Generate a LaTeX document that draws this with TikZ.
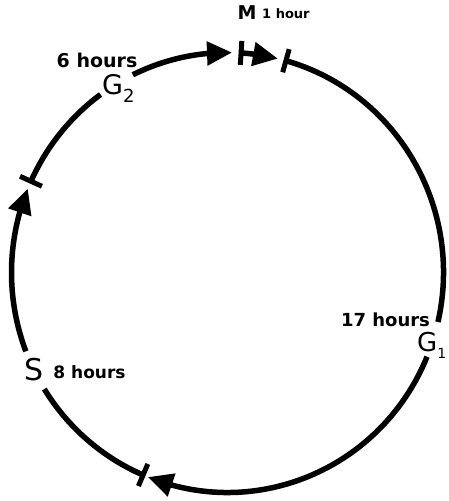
\documentclass[tikz,border=0pt]{standalone}
\usepackage{fontspec}
\setmainfont{DejaVu Sans}
\usetikzlibrary{arrows.meta,bending,calc}

\begin{document}
\begin{tikzpicture}[x=1pt, y=1pt,
  ring/.style={x radius=216pt, y radius=220pt},
  cyc/.style={line width=5.5pt},
  arr/.style={cyc, -{Triangle[length=25pt, width=23pt]}},
  tickmark/.style={line width=5pt},
  phase/.style={inner sep=0pt, font=\fontsize{27}{27}\selectfont},
  hrs/.style={inner sep=0pt, font=\bfseries\fontsize{19}{19}\selectfont}
]
  \useasboundingbox (0,0) rectangle (448,501);
  \coordinate (c) at (227.5,228.5);
  % phase boundaries and label gaps
  \coordinate (mg1) at ($(c)+(74.3:216pt and 220pt)$);
  \coordinate (g1b) at ($(c)+(-22.5:216pt and 220pt)$);
  \coordinate (g1s) at ($(c)+(247:216pt and 220pt)$);
  \coordinate (sb) at ($(c)+(201:216pt and 220pt)$);
  \coordinate (sg2) at ($(c)+(155.5:216pt and 220pt)$);
  \coordinate (g2b) at ($(c)+(116:216pt and 220pt)$);
  \coordinate (g2m) at ($(c)+(86.4:216pt and 220pt)$);
  % arcs
  \draw[cyc] (mg1) arc[ring, start angle=74.3, end angle=-13];
  \draw[arr] (g1b) arc[ring, start angle=-22.5, end angle=-111.6];
  \draw[cyc] (g1s) arc[ring, start angle=247, end angle=212];
  \draw[arr] (sb) arc[ring, start angle=201, end angle=157.6];
  \draw[cyc] (sg2) arc[ring, start angle=155.5, end angle=126];
  \draw[arr] (g2b) arc[ring, start angle=116, end angle=88.8];
  \draw[arr] (g2m) arc[ring, start angle=86.4, end angle=76.5];
  % boundary ticks
  \draw[tickmark] ($(c)+(74.3:204pt and 208pt)$) -- ($(c)+(74.3:228pt and 232pt)$);
  \draw[tickmark] ($(c)+(247:204pt and 208pt)$) -- ($(c)+(247:228pt and 232pt)$);
  \draw[tickmark] ($(c)+(155.5:204pt and 208pt)$) -- ($(c)+(155.5:228pt and 232pt)$);
  \draw[tickmark] ($(c)+(86.4:204pt and 208pt)$) -- ($(c)+(86.4:228pt and 232pt)$);
  % labels
  \node[hrs] (mlab) at (247,488) {M};
  \node[hrs, font=\bfseries\fontsize{13}{13}\selectfont, anchor=west] (mhrs) at (262,487) {1 hour};
  \node[hrs] (g2hrs) at (97,441) {6 hours};
  \node[phase, anchor=base west] (g2lab) at (102,406) {G\raisebox{-8pt}{\fontsize{18}{18}\selectfont 2}};
  \node[phase, font=\fontsize{30}{30}\selectfont] (slab) at (34,131) {S};
  \node[hrs, font=\bfseries\fontsize{17}{17}\selectfont] (shrs) at (89.5,129) {8 hours};
  \node[hrs, font=\bfseries\fontsize{18}{18}\selectfont] (g1hrs) at (385.5,181) {17 hours};
  \node[phase, font=\fontsize{26}{26}\selectfont, anchor=base west] (g1lab) at (417,149) {G\raisebox{-7pt}{\fontsize{14}{14}\selectfont 1}};
\end{tikzpicture}
\end{document}
